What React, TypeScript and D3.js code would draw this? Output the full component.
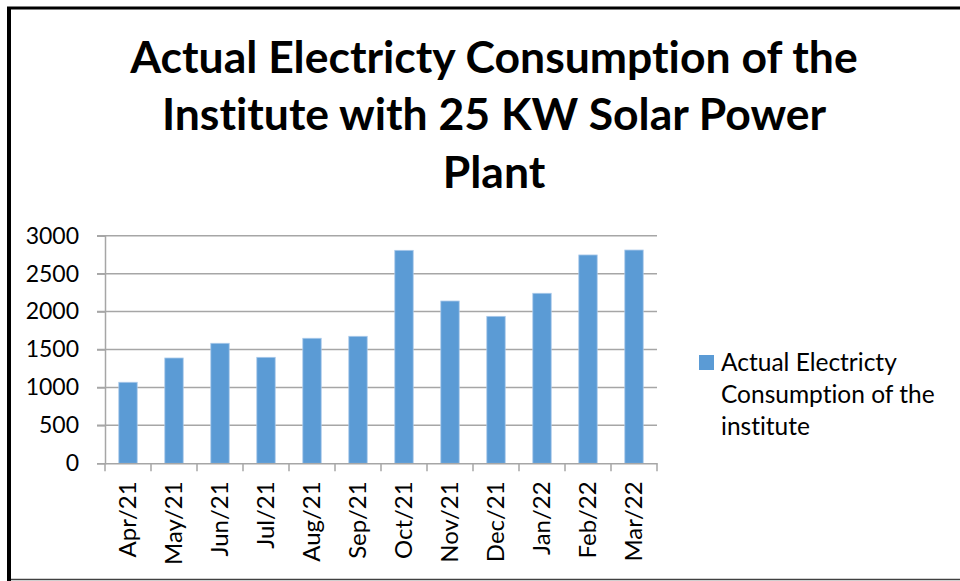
import { useRef, useEffect } from "react";
import { select, scaleBand, scaleLinear, axisLeft, axisBottom } from "d3";

const months = [
  "Apr/21", "May/21", "Jun/21", "Jul/21", "Aug/21", "Sep/21",
  "Oct/21", "Nov/21", "Dec/21", "Jan/22", "Feb/22", "Mar/22",
];
const consumption = [1068, 1388, 1582, 1397, 1648, 1674, 2807, 2139, 1937, 2241, 2746, 2811];
const yTicks = [0, 500, 1000, 1500, 2000, 2500, 3000];
const titleLines = [
  "Actual Electricty Consumption of the",
  "Institute with 25 KW Solar Power",
  "Plant",
];
const legendLines = ["Actual Electricty", "Consumption of the", "institute"];

const FONT = "Lato, 'Open Sans', sans-serif";
const BAR = "#5b9bd5";
const GRID = "#a6a6a6";

export default function App() {
  const ref = useRef<SVGSVGElement | null>(null);

  useEffect(() => {
    const svg = select(ref.current!);
    svg.selectAll("*").remove();

    const left = 105, right = 657, top = 235.7, bottom = 463.3;

    //scales
    const x = scaleBand<string>()
      .domain(months)
      .range([left, right])
      .paddingInner(0.6)
      .paddingOuter(0.3);
    const y = scaleLinear().domain([0, 3000]).range([bottom, top]);

    //frame
    svg.append("rect").attr("width", 960).attr("height", 581).attr("fill", "#fff");
    svg.append("line").attr("x1", 9).attr("x2", 9).attr("y1", 7).attr("y2", 581)
      .attr("stroke", "#000").attr("stroke-width", 4);
    svg.append("line").attr("x1", 7).attr("x2", 960).attr("y1", 8).attr("y2", 8)
      .attr("stroke", "#000").attr("stroke-width", 3);
    svg.append("line").attr("x1", 11).attr("x2", 960).attr("y1", 579.5).attr("y2", 579.5)
      .attr("stroke", "#404040").attr("stroke-width", 1.5);

    //title
    svg.append("text")
      .attr("text-anchor", "middle")
      .attr("font-family", FONT)
      .attr("font-weight", "bold")
      .attr("font-size", 44.5)
      .selectAll("tspan")
      .data(titleLines)
      .join("tspan")
      .attr("x", 494)
      .attr("y", (d, i) => 72.7 + i * 57.7)
      .text((d) => d);

    //grid
    svg.append("g")
      .selectAll("line")
      .data(yTicks.slice(1))
      .join("line")
      .attr("x1", left - 8).attr("x2", right)
      .attr("y1", (d) => y(d)).attr("y2", (d) => y(d))
      .attr("stroke", GRID).attr("stroke-width", 1.5);

    //y axis
    const yAxis: any = axisLeft(y)
      .tickValues(yTicks)
      .tickFormat((d: any) => String(d))
      .tickSize(8)
      .tickPadding(18);
    const gy = svg.append("g").attr("transform", `translate(${left},0)`).call(yAxis);
    gy.selectAll("line, path").attr("stroke", GRID).attr("stroke-width", 1.5);
    gy.selectAll("text")
      .attr("font-family", FONT).attr("font-size", 23).attr("fill", "#000");

    //bars
    svg.append("g")
      .selectAll("rect")
      .data(consumption)
      .join("rect")
      .attr("x", (d, i) => x(months[i])!)
      .attr("y", (d) => y(d))
      .attr("width", x.bandwidth())
      .attr("height", (d) => bottom - y(d))
      .attr("fill", BAR)
      .attr("stroke", "#a9c9ea")
      .attr("stroke-width", 0.8);

    //x axis
    const xAxis: any = axisBottom(x).tickSize(0).tickPadding(0);
    const gx = svg.append("g").attr("transform", `translate(0,${bottom})`).call(xAxis);
    gx.select("path").attr("stroke", GRID).attr("stroke-width", 1.5);
    gx.selectAll("text")
      .attr("font-family", FONT).attr("font-size", 24).attr("fill", "#000")
      .attr("text-anchor", "end")
      .attr("dy", "0.35em")
      .attr("transform", "translate(0,18) rotate(-90)")
      .attr("x", 0).attr("y", 0);
    const step = x.step();
    gx.append("g")
      .selectAll("line")
      .data(months.concat([""]))
      .join("line")
      .attr("x1", (d, i) => left + i * step)
      .attr("x2", (d, i) => left + i * step)
      .attr("y1", 0).attr("y2", 8)
      .attr("stroke", GRID).attr("stroke-width", 1.5);

    //legend
    const lg = svg.append("g");
    lg.append("rect").attr("x", 699).attr("y", 355).attr("width", 15).attr("height", 15).attr("fill", BAR);
    lg.append("text")
      .attr("font-family", FONT).attr("font-size", 24.5).attr("fill", "#000")
      .selectAll("tspan")
      .data(legendLines)
      .join("tspan")
      .attr("x", 721)
      .attr("y", (d, i) => 370.5 + i * 32.2)
      .text((d) => d);

    //no "ti" ligatures, the original font has none
    svg.selectAll("text").style("font-variant-ligatures", "none");
  }, []);

  return (
    <svg
      ref={ref}
      width={960}
      height={581}
      style={{ position: "absolute", left: 0, top: 0 }}
    ></svg>
  );
}
